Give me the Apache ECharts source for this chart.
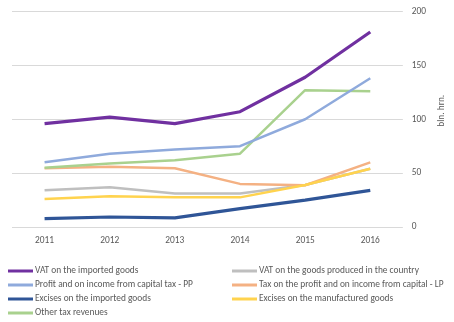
<!DOCTYPE html>
<html><head><meta charset="utf-8">
<script src="https://cdn.jsdelivr.net/npm/echarts@6/dist/echarts.min.js"></script>
<style>html,body{margin:0;padding:0;background:#fff}#c{width:454px;height:322px}</style>
</head><body><div id="c"></div>
<script>
const years = ['2011','2012','2013','2014','2015','2016'];
const vatImported = [96, 102, 96, 107, 139, 181];
const vatDomestic = [34, 37, 31, 31, 39, 54];
const profitPP = [60, 68, 72, 75, 100, 138];
const taxLP = [54.5, 56, 54.5, 40, 38.7, 60];
const excisesImported = [7.7, 9.3, 8.4, 17, 25, 34];
const excisesManufactured = [26, 28.5, 27.5, 27.5, 39, 54];
const otherRevenues = [55, 59, 62, 68, 127, 126];
const yTicks = [0, 50, 100, 150, 200];

const names = {
  vi: 'VAT on the imported goods',
  vd: 'VAT on the goods produced in the country',
  pp: 'Profit and on income from capital tax - PP',
  lp: 'Tax on the profit and on income from capital - LP',
  ei: 'Excises on the imported goods',
  em: 'Excises on the manufactured goods',
  ot: 'Other tax revenues'
};
function s(name, data, color, w, z) {
  return { name, type: 'line', data, symbol: 'none', z: z,
    lineStyle: { color, width: w }, itemStyle: { color }, animation: false };
}
const font = 'Calibri, Carlito, "Liberation Sans", "DejaVu Sans", sans-serif';
const legendCommon = {
  orient: 'vertical', top: 265, padding: 0, height: 60, icon: 'rect', itemWidth: 25, itemHeight: 3, itemGap: 2,
  selectedMode: false,
  textStyle: { fontSize: 9.4, color: '#595959', lineHeight: 12, fontFamily: font, padding: [0,0,0,-3] }
};
const chart = echarts.init(document.getElementById('c'));
chart.setOption({
  animation: false,
  grid: { left: 12, right: 51, top: 11.5, bottom: 95, containLabel: false },
  legend: [
    Object.assign({ left: 8, data: [names.vi, names.pp, names.ei, names.ot] }, legendCommon),
    Object.assign({ left: 232, data: [names.vd, names.lp, names.em] }, legendCommon)
  ],
  xAxis: {
    type: 'category', data: years, boundaryGap: true,
    axisLine: { show: false }, axisTick: { show: false },
    axisLabel: { fontSize: 9.4, color: '#595959', margin: 9, fontFamily: font }
  },
  yAxis: {
    type: 'value', position: 'right', min: yTicks[0], max: yTicks[yTicks.length-1], interval: 50,
    name: 'bln. hrn.', nameLocation: 'middle', nameGap: 27, nameRotate: 90,
    nameTextStyle: { fontSize: 9.4, color: '#595959', fontFamily: font, padding: [0,0,0,17] },
    axisLine: { show: false }, axisTick: { show: false },
    axisLabel: { fontSize: 9.4, color: '#595959', margin: 9, fontFamily: font },
    splitLine: { lineStyle: { color: '#D9D9D9', width: 1 } }
  },
  series: [
    s(names.vi, vatImported, '#7030A0', 3.2, 10),
    s(names.vd, vatDomestic, '#BFBFBF', 2.5, 3),
    s(names.pp, profitPP, '#8FAADC', 2.5, 5),
    s(names.lp, taxLP, '#F4B183', 2.5, 4),
    s(names.ei, excisesImported, '#2F5597', 3.2, 6),
    s(names.em, excisesManufactured, '#FFD34E', 2.5, 5),
    s(names.ot, otherRevenues, '#A9D18E', 2.5, 4)
  ]
});
</script></body></html>
